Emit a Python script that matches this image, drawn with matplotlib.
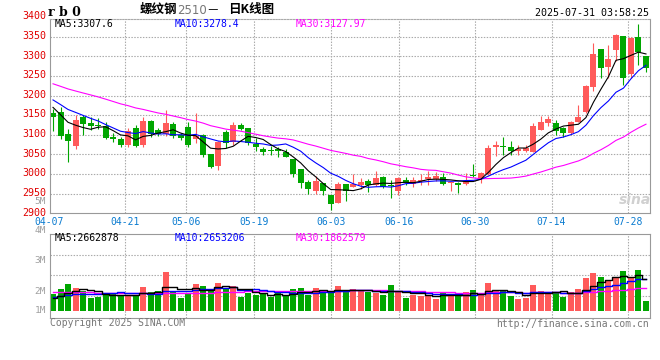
import numpy as np
import pandas as pd
import matplotlib
matplotlib.use("Agg")
import matplotlib.pyplot as plt

# ---- data ----
holidays = ["2025-05-01", "2025-05-02", "2025-05-05", "2025-06-02"]
days = pd.bdate_range("2025-04-07", "2025-07-31")
days = days[~days.isin(pd.to_datetime(holidays))]

opens = [3155, 3159, 3102, 3072, 3145, 3131, 3126, 3123, 3095, 3089,
         3074, 3117, 3074, 3136, 3112, 3102, 3128, 3100, 3119, 3089,
         3100, 3051, 3021, 3106, 3083, 3125, 3117, 3077, 3064, 3062,
         3063, 3057, 3038, 3012, 2981, 2956, 2978, 2947, 2927, 2975,
         2968, 2972, 2983, 2972, 2993, 2972, 2958, 2985, 2975, 2982,
         2987, 2987, 2992, 2977, 2976, 2974, 2998, 2989, 3000, 3070,
         3072, 3068, 3059, 3060, 3057, 3112, 3131, 3129, 3117, 3104,
         3134, 3157, 3223, 3319, 3274, 3315, 3352, 3255, 3349, 3302]
highs = [3165, 3172, 3114, 3151, 3151, 3145, 3142, 3134, 3104, 3095,
         3117, 3124, 3146, 3137, 3117, 3163, 3134, 3104, 3134, 3155,
         3102, 3052, 3084, 3112, 3134, 3131, 3117, 3091, 3068, 3072,
         3070, 3063, 3039, 3012, 2985, 2995, 2978, 2947, 2981, 2975,
         3000, 2989, 2987, 3008, 2994, 2985, 2993, 2993, 2992, 3000,
         3009, 3006, 3004, 2981, 2981, 3004, 3026, 3005, 3074, 3084,
         3094, 3085, 3074, 3074, 3131, 3148, 3148, 3138, 3121, 3136,
         3176, 3227, 3335, 3320, 3329, 3357, 3353, 3350, 3383, 3302]
lows = [3110, 3089, 3032, 3063, 3100, 3112, 3115, 3089, 3083, 3068,
        3068, 3068, 3068, 3094, 3097, 3097, 3091, 3087, 3068, 3078,
        3044, 3015, 3010, 3066, 3074, 3112, 3074, 3060, 3049, 3049,
        3043, 3043, 2993, 2964, 2949, 2950, 2947, 2908, 2925, 2932,
        2966, 2961, 2955, 2970, 2964, 2938, 2947, 2972, 2968, 2972,
        2972, 2983, 2972, 2958, 2951, 2972, 2993, 2976, 2998, 3045,
        3049, 3049, 3049, 3057, 3055, 3112, 3123, 3100, 3094, 3102,
        3133, 3155, 3212, 3244, 3246, 3287, 3227, 3244, 3278, 3261]
closes = [3145, 3097, 3085, 3138, 3128, 3123, 3123, 3091, 3089, 3073,
          3111, 3072, 3135, 3102, 3102, 3129, 3097, 3093, 3074, 3097,
          3049, 3017, 3083, 3080, 3125, 3115, 3078, 3068, 3055, 3060,
          3060, 3044, 3000, 2978, 2961, 2982, 2958, 2924, 2975, 2957,
          2975, 2981, 2972, 2991, 2966, 2970, 2991, 2978, 2985, 2984,
          2993, 2995, 2975, 2979, 2972, 2983, 2996, 3004, 3066, 3073,
          3070, 3060, 3063, 3066, 3123, 3134, 3140, 3111, 3104, 3134,
          3146, 3225, 3306, 3271, 3293, 3355, 3246, 3348, 3312, 3270]
# volume, millions of lots
volume = [1.44, 1.89, 2.34, 1.98, 1.67, 1.13, 1.22, 1.40, 1.53, 1.31,
          1.26, 1.40, 2.07, 1.58, 1.71, 3.38, 1.67, 1.13, 1.49, 2.34,
          2.16, 1.67, 2.43, 1.98, 2.16, 1.22, 1.53, 1.40, 1.44, 1.17,
          1.58, 1.31, 1.89, 1.98, 1.40, 1.98, 1.62, 1.62, 2.16, 1.67,
          1.89, 1.67, 1.62, 1.53, 1.40, 2.25, 1.62, 1.13, 1.40, 1.31,
          1.40, 1.04, 1.62, 1.31, 1.31, 1.58, 1.80, 1.40, 2.43, 1.80,
          1.71, 1.31, 1.04, 1.13, 2.25, 1.71, 1.58, 1.58, 1.22, 1.58,
          1.89, 2.79, 3.29, 2.88, 2.61, 2.93, 3.47, 2.79, 3.56, 0.86]
# sessions before 04-07 (only feed the moving averages), estimated from the MA lines
prev_close = [3290, 3285, 3295, 3280, 3270, 3275, 3262, 3268, 3255, 3250,
              3245, 3248, 3240, 3236, 3230, 3228, 3222, 3218, 3212, 3205,
              3215, 3210, 3212, 3205, 3198, 3190, 3182, 3175, 3158]
prev_volume = [1.9, 1.7, 1.8, 2.0, 1.6, 1.7, 1.9, 1.8, 1.6, 1.7,
               1.9, 2.0, 1.7, 1.8, 1.6, 1.7, 1.8, 1.9, 1.7, 1.8,
               1.4, 1.3, 1.4, 1.3, 1.35, 1.0, 0.95, 1.05, 0.91]
tick_dates = ["04-07", "04-21", "05-06", "05-19", "06-03",
              "06-16", "06-30", "07-14", "07-28"]
price_labels = list(range(2900, 3401, 50))

RED = "#ff5a5a"
GREEN = "#00a600"
GRID = "#aaaaaa"
FRAME = "#999999"
MONO = "DejaVu Sans Mono"

n = len(closes)
x = np.arange(n)
o = np.array(opens, float)
c = np.array(closes, float)
col = np.where(c >= o, RED, GREEN)


def moving(prev, vals, k):
    s = pd.Series(list(prev) + list(vals)).rolling(k).mean().values
    return s[len(prev):]


W, H = 660, 360
def box(l, t, r, b):
    return [l / W, 1 - b / H, (r - l) / W, (b - t) / H]
def px(xp, yp):
    return xp / W, 1 - yp / H

fig = plt.figure(figsize=(6.6, 3.6), dpi=100)
ax = fig.add_axes(box(50, 19, 650, 213.3))
axv = fig.add_axes(box(50, 234, 650, 318.3))

xlim = ((50 - 53) / 7.506, (650 - 53) / 7.506)
# sina spaces its date grid a touch wider than the candles
tick_pos = [1.0148 * days.strftime("%m-%d").get_loc(d) - 0.558 for d in tick_dates]

##! price panel
ax.vlines(x, lows, highs, colors=col, lw=0.8, zorder=2)
ax.bar(x, np.maximum(np.abs(c - o), 1.2), bottom=np.minimum(o, c),
       width=0.8, color=col, lw=0, zorder=2)
ax.plot(x, moving(prev_close, closes, 30), color="#ff00ff", lw=0.8, zorder=3)
ax.plot(x, moving(prev_close, closes, 10), color="#0000ff", lw=0.8, zorder=3)
ax.plot(x, moving(prev_close, closes, 5), color="black", lw=0.8, zorder=3)
ax.set_xlim(*xlim)
ax.set_ylim(2900, 2900 + (213.3 - 19) / 0.3923)
for v in price_labels[1:-1]:
    ax.axhline(v, color=GRID, lw=0.8, ls=(0, (1.3, 1.3)), zorder=1)
for p in tick_pos[1:]:
    ax.axvline(p, color=GRID, lw=0.8, ls=(0, (1.3, 1.3)), zorder=1)
for v in price_labels:
    ax.text(-0.0067, v + 2, str(v), transform=ax.get_yaxis_transform(),
            ha="right", va="center", color="#e00000", fontsize=7.2,
            family=MONO, clip_on=False)
for d, p in zip(tick_dates, tick_pos):
    ax.text(p, -0.043, d, transform=ax.get_xaxis_transform(), ha="center",
            va="center", color="#0a7bd0", fontsize=7, family=MONO, clip_on=False)
ax.set_xticks([])
ax.set_yticks([])
for s in ["left", "right", "bottom"]:
    ax.spines[s].set_color(FRAME)
ax.spines["top"].set_color(GRID)
ax.spines["top"].set_linestyle((0, (1.3, 1.3)))
ax.text(0.008, 0.972, "MA5:3307.6", transform=ax.transAxes, fontsize=7,
        family=MONO, color="black", va="center")
ax.text(0.208, 0.972, "MA10:3278.4", transform=ax.transAxes, fontsize=7,
        family=MONO, color="#0000ff", va="center")
ax.text(0.41, 0.972, "MA30:3127.97", transform=ax.transAxes, fontsize=7,
        family=MONO, color="#ff00ff", va="center")
ax.text(0.975, 0.07, "sina", transform=ax.transAxes, fontsize=10,
        style="italic", weight="bold", color="#d0d0d0", ha="center", va="center")

##! volume panel
axv.bar(x, volume, width=0.8, color=col, lw=0, zorder=2)
axv.plot(x, moving(prev_volume, volume, 30), color="#ff00ff", lw=1, ds="steps-mid", zorder=3)
axv.plot(x, moving(prev_volume, volume, 10), color="#0000ff", lw=1, ds="steps-mid", zorder=3)
axv.plot(x, moving(prev_volume, volume, 5), color="black", lw=1, ds="steps-mid", zorder=3)
axv.set_xlim(*xlim)
axv.set_ylim(-7.6 / 11.56, 76.7 / 11.56)
for f in [0.745, 0.508, 0.265]:
    axv.plot([0, 1], [f, f], transform=axv.transAxes, color=GRID, lw=0.8,
             ls=(0, (1.3, 1.3)), zorder=1)
for p in tick_pos[1:]:
    axv.axvline(p, color=GRID, lw=0.8, ls=(0, (1.3, 1.3)), zorder=1)
axv.set_xticks([])
axv.set_yticks([])
for s in axv.spines.values():
    s.set_color(FRAME)
axv.text(0.008, 0.95, "MA5:2662878", transform=axv.transAxes, fontsize=7,
         family=MONO, color="black", va="center")
axv.text(0.208, 0.95, "MA10:2653206", transform=axv.transAxes, fontsize=7,
         family=MONO, color="#0000ff", va="center")
axv.text(0.41, 0.95, "MA30:1862579", transform=axv.transAxes, fontsize=7,
         family=MONO, color="#ff00ff", va="center")

for lab, yp in [("5M", 202), ("4M", 230.7), ("3M", 260.7), ("2M", 291), ("1M", 310.7)]:
    fig.text(*px(46, yp), lab, ha="right", va="center", color="#a0a0a0",
             fontsize=6.8, family=MONO)

##! header / footer
fig.text(*px(48, 12), "r b 0", fontsize=9, family="DejaVu Serif", weight="bold",
         va="center")
cjk = ["Noto Sans CJK SC", "DejaVu Sans"]
fig.text(*px(140, 9.5), "螺纹钢", fontsize=9, family=cjk, weight="bold", va="center")
fig.text(*px(177, 10), "2510", fontsize=8.5, family="DejaVu Sans", color="#777777",
         va="center")
fig.text(*px(206, 10), "－", fontsize=9, family=cjk, va="center")
fig.text(*px(228, 9.5), "日K线图", fontsize=9, family=cjk, weight="bold", va="center")
fig.text(*px(649, 12.7), "2025-07-31 03:58:25", fontsize=7.2, family=MONO,
         ha="right", va="center")
fig.text(*px(50, 323.3), "Copyright 2025 SINA.COM", fontsize=7, family=MONO,
         color="#777777", va="center")
fig.text(*px(649, 324), "http://finance.sina.com.cn", fontsize=7, family=MONO,
         color="#777777", ha="right", va="center")

fig.savefig("out.png", dpi=100, facecolor="white")
